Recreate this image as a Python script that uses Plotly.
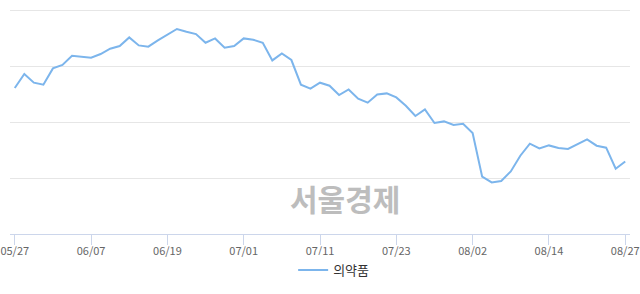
import plotly.graph_objects as go

dates = [
    "05/27", "05/28", "05/29", "05/30", "05/31",
    "06/03", "06/04", "06/05", "06/07", "06/10", "06/11", "06/12", "06/13", "06/14",
    "06/17", "06/18", "06/19", "06/20", "06/21", "06/24", "06/25", "06/26", "06/27", "06/28",
    "07/01", "07/02", "07/03", "07/04", "07/05", "07/08", "07/09", "07/10", "07/11", "07/12",
    "07/15", "07/16", "07/17", "07/18", "07/19", "07/22", "07/23", "07/24", "07/25", "07/26",
    "07/29", "07/30", "07/31",
    "08/01", "08/02", "08/05", "08/06", "08/07", "08/08", "08/09", "08/12", "08/13", "08/14",
    "08/16", "08/19", "08/20", "08/21", "08/22", "08/23", "08/26", "08/27",
]

values = [
    260.7, 285.7, 270.2, 266.6, 295.7, 301.8, 318.4, 317.1, 314.8, 321.4,
    330.9, 335.7, 351.1, 336.8, 334.5, 345.7, 355.9, 366.1, 361.3, 357.1,
    341.6, 349.3, 332.7, 335.7, 349.3, 347.0, 341.6, 310.0, 322.5, 310.7,
    266.6, 259.5, 270.2, 264.8, 248.2, 258.2, 241.6, 234.5, 249.3, 251.1,
    243.9, 229.1, 210.7, 222.5, 198.2, 201.1, 194.6, 197.0, 180.4, 102.3,
    92.1, 94.6, 111.8, 139.8, 161.3, 152.9, 158.2, 153.6, 151.8, 160.7,
    168.9, 157.7, 154.1, 116.6, 129.6,
]

tick_dates = dates[::8]
series_name = "의약품"
watermark = "서울경제"

font_family = "Noto Sans CJK KR, Noto Sans, sans-serif"

fig = go.Figure()
fig.add_trace(go.Scatter(
    x=dates, y=values, mode="lines", name=series_name,
    line=dict(color="#7cb5ec", width=2),
    showlegend=True,
))

fig.add_annotation(
    text="<b>" + watermark + "</b>", xref="paper", yref="paper",
    x=0.54, y=0.158, xanchor="center", yanchor="middle",
    showarrow=False, font=dict(size=30, color="#bdbdbd", family=font_family),
)

fig.update_layout(
    width=640, height=294,
    margin=dict(l=10, r=10, t=8, b=60, autoexpand=False),
    paper_bgcolor="white", plot_bgcolor="white",
    font=dict(family=font_family),
    showlegend=True,
    legend=dict(
        orientation="h", x=0.522, xanchor="center", y=-0.16, yanchor="middle",
        font=dict(size=13, color="#333333"), itemwidth=30,
    ),
    xaxis=dict(
        type="category", range=[-0.5, len(dates) - 0.5],
        tickmode="array", tickvals=tick_dates, ticktext=tick_dates,
        showgrid=False, showline=True, linecolor="#ccd6eb", linewidth=1,
        ticks="outside", ticklen=10, tickcolor="#ccd6eb", tickwidth=1,
        ticklabelstandoff=-3,
        tickfont=dict(size=11, color="#666666", family=font_family),
        automargin=False, fixedrange=True,
    ),
    yaxis=dict(
        range=[0, 403.6], dtick=100, tick0=0,
        showgrid=True, gridcolor="#e6e6e6", gridwidth=1,
        zeroline=False, showticklabels=False, showline=False,
        automargin=False, fixedrange=True,
    ),
)

fig.write_html("out.html")
